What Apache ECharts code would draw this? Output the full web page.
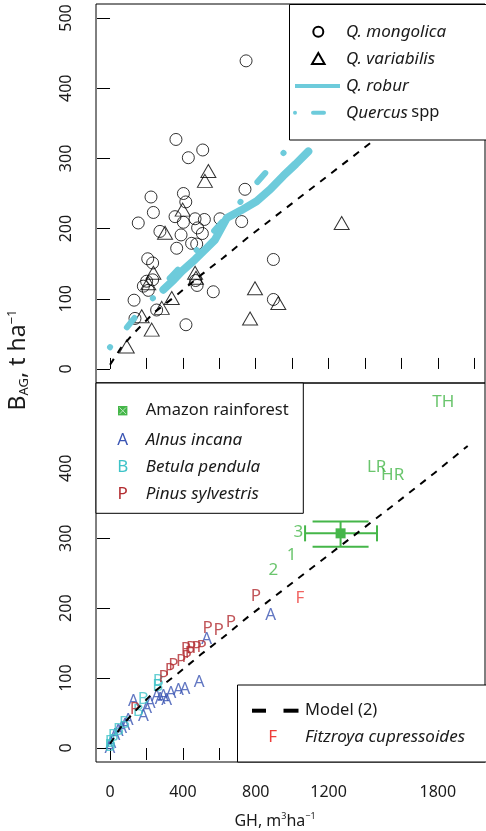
<!DOCTYPE html>
<html>
<head>
<meta charset="utf-8">
<script src="https://cdn.jsdelivr.net/npm/echarts@6/dist/echarts.min.js"></script>
<style>
  html, body { margin: 0; padding: 0; background: #fff; }
  #chart { width: 486px; height: 831px; }
</style>
</head>
<body>
<div id="chart"></div>
<script>
// top panel: oak data
const mongolicaGH = [747, 362, 430, 509, 225, 403, 416, 238, 155, 357, 403, 467, 518, 604, 481, 507, 390, 274, 448, 476, 366, 207, 234, 201, 183, 210, 234, 470, 478, 567, 132, 256, 137, 417, 741, 723, 897, 897]
const mongolicaB = [439, 327, 301, 312, 245, 250, 238, 223, 208, 217, 209, 214, 213, 214, 201, 193, 191, 196, 179, 178, 172, 157, 151, 125, 118, 112, 127, 126, 119, 110, 98, 84, 72, 63, 256, 210, 156, 99]
const variabilisGH = [540, 521, 399, 302, 238, 210, 467, 472, 339, 284, 229, 174, 92, 1272, 796, 924, 769]
const variabilisB = [282, 268, 227, 194, 137, 122, 137, 130, 101, 87, 56, 75, 32, 208, 115, 94, 72]
const roburGH = [293, 350, 393, 467, 530, 576, 641, 720, 805, 880, 951, 1020, 1089]
const roburB = [113, 127, 139, 156, 172, 184, 215, 226, 239, 256, 275, 292, 310]
const sppGH = [0, 82, 148, 236, 330, 470, 600, 723, 805, 869, 961]
const sppB = [31, 56, 77, 101, 130, 168, 205, 240, 265, 284, 310]

// model (2) line, both panels
const modelGH = [0, 60, 120, 240, 370, 500, 620, 760, 940, 1130, 1330, 1560, 1780, 1964]
const modelB = [6, 30, 48, 80, 106, 134, 158, 188, 224, 262, 302, 348, 393, 432]

// bottom panel
const alnusGH = [0, 5, 27, 45, 64, 82, 100, 128, 183, 201, 220, 256, 275, 293, 311, 335, 375, 412, 489, 531, 882]
const alnusB = [0, 7, 19, 24, 29, 33, 40, 67, 45, 57, 64, 74, 70, 74, 69, 79, 83, 84, 94, 155, 190]
const betulaGH = [0, 2, 18, 46, 80, 155, 183, 262, 265]
const betulaB = [3, 9, 17, 26, 35, 52, 70, 89, 95]
const pinusGH = [137, 295, 329, 348, 390, 416, 421, 439, 445, 476, 503, 536, 597, 664, 801]
const pinusB = [56, 102, 112, 119, 124, 141, 130, 136, 143, 143, 144, 172, 168, 180, 217]
const fitzroyaGH = [1043]
const fitzroyaB = [214]
const greenNames = ['1', '2', '3', 'LR', 'HR', 'TH']
const greenGH = [997, 897, 1034, 1464, 1552, 1830]
const greenB = [276, 254, 309, 401, 390, 495]
const amazonGH = [1266]
const amazonB = [307]
const amazonGHlo = [1071]
const amazonGHhi = [1466]
const amazonBlo = [288]
const amazonBhi = [324]

const xTicks = [0, 200, 400, 600, 800, 1000, 1200, 1400, 1600, 1800, 2000]
const xLabels = [0, 400, 800, 1200, 1800]
const yTicksTop = [0, 100, 200, 300, 400, 500]
const yTicksBottom = [0, 100, 200, 300, 400]

const FONT = 'Noto Sans'
const CYAN = '#6dcbdb'
const GREEN = '#45b649'
const BLUE = '#3b55b3'
const TEAL = '#3ec3c8'
const DARKRED = '#b22b2f'
const RED = '#ee3d3a'
const NORM = '16.5px "Noto Sans"'
const ITAL = 'italic 17px "Noto Sans"'

const zip = (a, b) => a.map((v, i) => [v, b[i]])

function letters(gh, b, txt, color) {
  return {
    type: 'scatter', xAxisIndex: 1, yAxisIndex: 1,
    symbolSize: 2, itemStyle: { color: 'rgba(0,0,0,0)' }, silent: true,
    label: { show: true, position: 'inside', formatter: txt, color: color, fontSize: 17, fontFamily: FONT },
    data: zip(gh, b),
  }
}

function yAxis(idx, ticks, max) {
  return {
    type: 'value', gridIndex: idx, min: -20, max: max,
    splitLine: { show: false }, axisLine: { show: false },
    axisTick: { show: true, length: 13, customValues: ticks, lineStyle: { color: '#000' } },
    axisLabel: { customValues: ticks, rotate: 90, margin: 22, fontSize: 16, fontFamily: FONT, color: '#1a1a1a' },
  }
}

const chart = echarts.init(document.getElementById('chart'))

chart.setOption({
  animation: false,
  grid: [
    { left: 96, right: 1, top: 4, height: 379, show: true, borderColor: '#000', borderWidth: 1 },
    { left: 96, right: 1, top: 383, height: 379, show: true, borderColor: '#000', borderWidth: 1 },
  ],
  xAxis: [
    {
      type: 'value', gridIndex: 0, min: -77, max: 2059,
      splitLine: { show: false }, axisLine: { show: false },
      axisTick: { show: true, inside: true, length: 11, customValues: xTicks, lineStyle: { color: '#000' } },
      axisLabel: { show: false },
    },
    {
      type: 'value', gridIndex: 1, min: -77, max: 2059,
      splitLine: { show: false }, axisLine: { show: false },
      axisTick: { show: true, length: 12, customValues: xTicks, lineStyle: { color: '#000' } },
      axisLabel: { customValues: xLabels, formatter: v => String(v), margin: 22, fontSize: 16, fontFamily: FONT, color: '#1a1a1a' },
    },
  ],
  yAxis: [yAxis(0, yTicksTop, 520), yAxis(1, yTicksBottom, 522)],
  series: [
    {
      type: 'line', xAxisIndex: 0, yAxisIndex: 0, data: zip(modelGH, modelB),
      symbol: 'none', silent: true,
      lineStyle: { color: '#000', width: 2, type: [7, 7] },
    },
    {
      type: 'line', xAxisIndex: 1, yAxisIndex: 1, data: zip(modelGH, modelB),
      symbol: 'none', silent: true,
      lineStyle: { color: '#000', width: 2, type: [7, 7] },
    },
    {
      type: 'line', xAxisIndex: 0, yAxisIndex: 0, data: zip(roburGH, roburB),
      symbol: 'none', silent: true,
      lineStyle: { color: CYAN, width: 8, cap: 'round', join: 'round' },
    },
    {
      type: 'line', xAxisIndex: 0, yAxisIndex: 0, data: zip(sppGH, sppB),
      symbol: 'none', silent: true,
      lineStyle: { color: CYAN, width: 6, cap: 'round', join: 'round', type: [0.1, 26, 12, 27] },
    },
    {
      type: 'scatter', xAxisIndex: 0, yAxisIndex: 0, data: zip(mongolicaGH, mongolicaB),
      symbol: 'circle', symbolSize: 12, silent: true,
      itemStyle: { color: 'rgba(0,0,0,0)', borderColor: '#000', borderWidth: 1 },
    },
    {
      type: 'scatter', xAxisIndex: 0, yAxisIndex: 0, data: zip(variabilisGH, variabilisB),
      symbol: 'triangle', symbolSize: [15, 13], silent: true,
      itemStyle: { color: 'rgba(0,0,0,0)', borderColor: '#000', borderWidth: 1 },
    },
    letters(alnusGH, alnusB, 'A', BLUE),
    letters(betulaGH, betulaB, 'B', TEAL),
    letters(pinusGH, pinusB, 'P', DARKRED),
    letters(fitzroyaGH, fitzroyaB, 'F', RED),
    {
      type: 'scatter', xAxisIndex: 1, yAxisIndex: 1,
      symbolSize: 2, itemStyle: { color: 'rgba(0,0,0,0)' }, silent: true,
      label: { show: true, position: 'inside', formatter: p => p.value[2], color: GREEN, fontSize: 17, fontFamily: FONT },
      data: greenGH.map((g, i) => [g, greenB[i], greenNames[i]]),
    },
    {
      type: 'custom', xAxisIndex: 1, yAxisIndex: 1, silent: true,
      data: amazonGH.map((g, i) => [g, amazonB[i], amazonGHlo[i], amazonGHhi[i], amazonBlo[i], amazonBhi[i]]),
      renderItem: (params, api) => {
        const c = api.coord([api.value(0), api.value(1)])
        const xl = api.coord([api.value(2), api.value(1)])[0]
        const xh = api.coord([api.value(3), api.value(1)])[0]
        const yl = api.coord([api.value(0), api.value(4)])[1]
        const yh = api.coord([api.value(0), api.value(5)])[1]
        const st = { stroke: GREEN, lineWidth: 2 }
        const ln = (x1, y1, x2, y2) => ({ type: 'line', shape: { x1, y1, x2, y2 }, style: st })
        return {
          type: 'group',
          children: [
            ln(xl, c[1], xh, c[1]),
            ln(xl, c[1] - 8, xl, c[1] + 8),
            ln(xh, c[1] - 8, xh, c[1] + 8),
            ln(c[0], yl, c[0], yh),
            ln(c[0] - 28, yl, c[0] + 28, yl),
            ln(c[0] - 28, yh, c[0] + 28, yh),
            { type: 'rect', shape: { x: c[0] - 5, y: c[1] - 5, width: 10, height: 10 }, style: { fill: GREEN } },
          ],
        }
      },
    },
  ],
  graphic: [
    // top legend
    { type: 'rect', z: 100, shape: { x: 289.5, y: 4.5, width: 200, height: 135.5 }, style: { fill: '#fff', stroke: '#000', lineWidth: 1 } },
    { type: 'circle', z: 101, shape: { cx: 318.3, cy: 31.7, r: 5 }, style: { fill: 'none', stroke: '#000', lineWidth: 2 } },
    { type: 'polygon', z: 101, shape: { points: [[312, 64], [324.6, 64], [318.3, 53]] }, style: { fill: 'none', stroke: '#000', lineWidth: 2 } },
    { type: 'line', z: 101, shape: { x1: 295, y1: 86, x2: 340, y2: 86 }, style: { stroke: CYAN, lineWidth: 4 } },
    { type: 'circle', z: 101, shape: { cx: 295, cy: 112.7, r: 2 }, style: { fill: CYAN } },
    { type: 'line', z: 101, shape: { x1: 313, y1: 112.7, x2: 324, y2: 112.7 }, style: { stroke: CYAN, lineWidth: 4, lineCap: 'round' } },
    { type: 'text', z: 101, x: 346, y: 31.7, style: { text: 'Q. mongolica', font: ITAL, fill: '#1a1a1a', verticalAlign: 'middle' } },
    { type: 'text', z: 101, x: 346, y: 58.7, style: { text: 'Q. variabilis', font: ITAL, fill: '#1a1a1a', verticalAlign: 'middle' } },
    { type: 'text', z: 101, x: 346, y: 86, style: { text: 'Q. robur', font: ITAL, fill: '#1a1a1a', verticalAlign: 'middle' } },
    {
      type: 'text', z: 101, x: 346, y: 112.7,
      style: {
        text: '{i|Quercus} {n|spp}', verticalAlign: 'middle', fill: '#1a1a1a',
        rich: { i: { fontStyle: 'italic', fontSize: 17, fontFamily: FONT }, n: { fontSize: 16.5, fontFamily: FONT } },
      },
    },
    // bottom-left legend
    { type: 'rect', z: 100, shape: { x: 96, y: 383, width: 207.3, height: 130.3 }, style: { fill: '#fff', stroke: '#000', lineWidth: 1 } },
    { type: 'rect', z: 101, shape: { x: 118, y: 406, width: 9.4, height: 9.4 }, style: { fill: GREEN } },
    { type: 'line', z: 102, shape: { x1: 119.5, y1: 407.5, x2: 126, y2: 414 }, style: { stroke: '#b9e6bd', lineWidth: 1 } },
    { type: 'line', z: 102, shape: { x1: 126, y1: 407.5, x2: 119.5, y2: 414 }, style: { stroke: '#b9e6bd', lineWidth: 1 } },
    { type: 'text', z: 101, x: 122.7, y: 440, style: { text: 'A', font: '17px "Noto Sans"', fill: BLUE, align: 'center', verticalAlign: 'middle' } },
    { type: 'text', z: 101, x: 122.7, y: 467.3, style: { text: 'B', font: '17px "Noto Sans"', fill: TEAL, align: 'center', verticalAlign: 'middle' } },
    { type: 'text', z: 101, x: 122.7, y: 494.3, style: { text: 'P', font: '17px "Noto Sans"', fill: DARKRED, align: 'center', verticalAlign: 'middle' } },
    { type: 'text', z: 101, x: 145.7, y: 410.7, style: { text: 'Amazon rainforest', font: NORM, fill: '#1a1a1a', verticalAlign: 'middle' } },
    { type: 'text', z: 101, x: 145.7, y: 440, style: { text: 'Alnus incana', font: ITAL, fill: '#1a1a1a', verticalAlign: 'middle' } },
    { type: 'text', z: 101, x: 145.7, y: 467.3, style: { text: 'Betula pendula', font: ITAL, fill: '#1a1a1a', verticalAlign: 'middle' } },
    { type: 'text', z: 101, x: 145.7, y: 494.3, style: { text: 'Pinus sylvestris', font: ITAL, fill: '#1a1a1a', verticalAlign: 'middle' } },
    // bottom-right legend
    { type: 'rect', z: 100, shape: { x: 237.5, y: 685, width: 260, height: 77 }, style: { fill: '#fff', stroke: '#000', lineWidth: 1 } },
    { type: 'line', z: 101, shape: { x1: 252, y1: 710.7, x2: 266, y2: 710.7 }, style: { stroke: '#000', lineWidth: 4 } },
    { type: 'line', z: 101, shape: { x1: 283.5, y1: 710.7, x2: 298.5, y2: 710.7 }, style: { stroke: '#000', lineWidth: 4 } },
    { type: 'text', z: 101, x: 305, y: 710.7, style: { text: 'Model (2)', font: NORM, fill: '#1a1a1a', verticalAlign: 'middle' } },
    { type: 'text', z: 101, x: 272.7, y: 737.3, style: { text: 'F', font: '17px "Noto Sans"', fill: RED, align: 'center', verticalAlign: 'middle' } },
    { type: 'text', z: 101, x: 305, y: 737.3, style: { text: 'Fitzroya cupressoides', font: ITAL, fill: '#1a1a1a', verticalAlign: 'middle' } },
    // axis titles
    {
      type: 'text', x: 18, y: 360, rotation: Math.PI / 2,
      style: {
        text: '{b|B}{s|AG}{b|, t ha}{p|−1}', align: 'center', verticalAlign: 'middle', fill: '#1a1a1a',
        rich: {
          b: { fontSize: 23, fontFamily: FONT, lineHeight: 30, verticalAlign: 'middle' },
          s: { fontSize: 13, fontFamily: FONT, lineHeight: 30, verticalAlign: 'bottom', padding: [0, 0, 2, 0] },
          p: { fontSize: 13, fontFamily: FONT, lineHeight: 30, verticalAlign: 'top', padding: [3, 0, 0, 0] },
        },
      },
    },
    {
      type: 'text', x: 275, y: 821,
      style: {
        text: '{n|GH, m}{p|3}{n|ha}{p|−1}', align: 'center', verticalAlign: 'middle', fill: '#1a1a1a',
        rich: {
          n: { fontSize: 16, fontFamily: FONT, lineHeight: 22, verticalAlign: 'middle' },
          p: { fontSize: 9, fontFamily: FONT, lineHeight: 22, verticalAlign: 'top', padding: [2, 0, 0, 0] },
        },
      },
    },
  ],
})
</script>
</body>
</html>
